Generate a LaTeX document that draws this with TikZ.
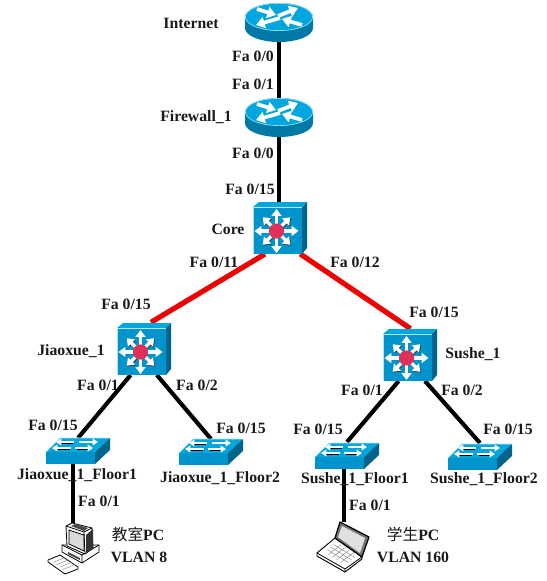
\documentclass[tikz,border=0pt]{standalone}
\usepackage{fontspec}
\setmainfont{Liberation Serif}
\newfontfamily\cjkfont{Noto Sans CJK SC}
\usetikzlibrary{arrows.meta,calc}
\definecolor{topblue}{HTML}{00A6DE}
\definecolor{frontblue}{HTML}{0094CC}
\definecolor{sideblue}{HTML}{0079A6}
\definecolor{darkblue}{HTML}{00648C}
\definecolor{linkred}{HTML}{F00000}
\definecolor{hubred}{HTML}{E0305A}
\tikzset{
  devbox/.style={inner sep=0pt,outer sep=0pt},
  lbl/.style={inner sep=0pt,font=\fontsize{11.8}{13}\selectfont\bfseries,text=black!90},
  wire/.style={black,line width=3.1pt},
  redwire/.style={linkred,line width=3.9pt},
  rtarrow/.style={white,line width=2.8pt,-{Triangle[length=6.5pt,width=8.5pt]}},
  wharrow/.style={white,line width=2.5pt,-{Triangle[length=5.2pt,width=7.4pt]}},
  wharrowb/.style={black!80,line width=2.5pt,-{Triangle[length=5.2pt,width=7.4pt]}},
  thinarrow/.style={white,line width=1.7pt,-{Triangle[length=4pt,width=5pt]}},
  thinshadow/.style={black,line width=1.2pt},
  icn/.style={draw=black,line width=0.6pt,line join=round}
}
% invisible box giving a device its name and its extent (x,y are the centre)
\newcommand{\devbox}[5]{\node[devbox,minimum width=#4*0.75pt,minimum height=#5*0.75pt] (#1) at (#2,#3) {};}
% router: centre of top ellipse at (#1,#2)
\newcommand{\routericon}[2]{\begin{scope}[shift={(#1,#2)}]
  \fill[sideblue] (-34,0) -- (-34,11) arc[start angle=180,end angle=0,x radius=34,y radius=14] -- (34,0) -- cycle;
  \fill[topblue] (0,0) ellipse[x radius=34,y radius=14];
  \draw[white!60!topblue,line width=0.5pt] (0,0) ellipse[x radius=33.6,y radius=13.6];
  \draw[rtarrow] (-22,-8) -- (-3,-2);
  \draw[rtarrow] (23,8) -- (3,2);
  \draw[rtarrow] (-1,-1) -- (19,-9);
  \draw[rtarrow] (1,1) -- (-23,8);
\end{scope}}
% layer-3 switch: top-left of front face at (#1,#2)
\newcommand{\coreicon}[2]{\begin{scope}[shift={(#1,#2)}]
  \fill[topblue] (0,0) -- (6,-5) -- (54,-5) -- (49,0) -- cycle;
  \fill[darkblue] (49,0) -- (54,-5) -- (54,41) -- (49,47) -- cycle;
  \fill[frontblue] (0,0) rectangle (49,47);
  \draw[white!70!topblue,line width=0.4pt] (0,47) -- (0,0) -- (49,0);
  \foreach \a in {45,135,225,315}{
    \draw[wharrowb] (24.2,24.8) -- ++(\a:19.5);
    \draw[wharrow] (23.5,24) -- ++(\a:19.5);
  }
  \foreach \a in {0,90,180,270}{
    \draw[wharrow] (23.5,24) -- ++(\a:22);
  }
  \fill[hubred] (23.5,24) circle[radius=7.6];
\end{scope}}
% layer-2 switch: top-left of front face at (#1,#2)
\newcommand{\swicon}[2]{\begin{scope}[shift={(#1,#2)}]
  \fill[topblue] (0,0) -- (14,-14) -- (64,-14) -- (49,0) -- cycle;
  \fill[darkblue] (49,0) -- (64,-14) -- (64,-2) -- (49,12) -- cycle;
  \fill[frontblue] (0,0) rectangle (49,12);
  \draw[white!70!topblue,line width=0.4pt] (0,0) -- (14,-14) -- (64,-14);
  \draw[thinshadow] (13,-8.5) -- (27,-8.5);
  \draw[thinarrow] (28,-10) -- (10,-10);
  \draw[thinarrow] (33,-10) -- (52,-10);
  \draw[thinshadow] (8,-2.6) -- (24,-2.6);
  \draw[thinarrow] (25,-4) -- (6,-4);
  \draw[thinshadow] (31,-2.6) -- (44,-2.6);
  \draw[thinarrow] (29,-4) -- (47,-4);
\end{scope}}
\newcommand{\pcicon}{%
  % keyboard
  \filldraw[icn,fill=white] (48,560) -- (60,555) -- (78,567) -- (78,569) -- (65,574) -- (48,562) -- cycle;
  \foreach \t in {0.2,0.4,0.6,0.8}{\draw[gray,line width=0.3pt] ($(50,560)!\t!(66,572)$) -- ++(12,-5);}
  % base
  \filldraw[icn,fill=white] (62,545) -- (99,545) -- (99,552) -- (82,563) -- (62,552) -- cycle;
  \draw[icn] (62,545) -- (82,555) -- (99,545) (82,555) -- (82,563);
  \fill[black!75] (68,552) -- (80,558) -- (80,560) -- (68,554) -- cycle;
  % monitor
  \filldraw[icn,fill=white] (66,526) -- (72,523) -- (92,528) -- (93,548) -- (85,554) -- (67,546) -- cycle;
  \filldraw[icn,fill=black!15] (69,530) -- (84,535) -- (84,551) -- (69,544) -- cycle;
  \fill[black!80] (86,535) -- (93,529) -- (93,548) -- (86,553) -- cycle;
  \fill[black!70] (75,524) -- (88,528) -- (84,531) -- (71,526) -- cycle;
  \draw[icn] (66,526) -- (84,532) -- (92,528) (84,532) -- (85,554);
}
\newcommand{\laptopicon}{%
  % base
  \filldraw[icn,fill=white,line width=0.7pt] (317,553) -- (335,538) -- (362,557) -- (362,559) -- (345,572) -- (317,556) -- cycle;
  \draw[icn] (317,553) -- (345,569) -- (362,557) (345,569) -- (345,572);
  \foreach \t in {0.2,0.4,0.6,0.8}{\draw[gray,line width=0.3pt] ($(324,552)!\t!(345,565)$) -- ++(13,-10);}
  \foreach \t in {0.25,0.5,0.75}{\draw[gray,line width=0.3pt] ($(324,552)!\t!(337,542)$) -- ++(21,13);}
  % lid
  \filldraw[icn,fill=black!55,line width=0.9pt] (340,522) -- (369,537) -- (362,557) -- (335,538) -- cycle;
  \fill[black!12] (342,526) -- (365,538) -- (360,553) -- (338,537) -- cycle;
}
\begin{document}
\begin{tikzpicture}[x=0.75pt,y=-0.75pt]
\useasboundingbox (0,0) rectangle (546,581);
% named device extents
\devbox{internet}{279}{22.5}{68}{39}
\devbox{firewall}{279}{117.5}{68}{39}
\devbox{core}{280}{228}{54}{52}
\devbox{jiaoxue}{144.5}{348}{55}{50}
\devbox{sushe}{411}{354}{56}{50}
\devbox{jfa}{78}{450.5}{64}{25}
\devbox{jfb}{211}{452.5}{64}{27}
\devbox{sfa}{347}{455}{64}{26}
\devbox{sfb}{480}{456.5}{66}{27}
\devbox{pc}{73}{548}{51}{50}
\devbox{laptop}{344}{547}{52}{50}
% connectors
\draw[wire] (internet.south) -- (firewall.north);
\draw[wire] (firewall.south) -- (firewall.south |- core.north);
\draw[redwire,shorten >=1pt] (core.-120) -- (jiaoxue.78);
\draw[redwire,shorten >=0.5pt] (core.-52.4) -- (sushe.north);
\draw[wire,shorten <=2pt] (jiaoxue.-116.6) -- (jfa.north);
\draw[wire,shorten <=2pt] (jiaoxue.-67.2) -- (jfb.north);
\draw[wire,shorten <=2pt] (sushe.-113.8) -- (sfa.north);
\draw[wire,shorten <=2pt] (sushe.-64.4) -- (sfb.north);
\draw[wire] (jfa.-111.8) -- (jfa.-111.8 |- pc.north);
\draw[wire] (sfa.-103) -- (sfa.-103 |- laptop.north);
% icons
\routericon{279}{17}
\routericon{279}{112}
\coreicon{253}{207}
\coreicon{117}{328}
\coreicon{383}{334}
\swicon{46}{452}
\swicon{179}{453}
\swicon{315}{457}
\swicon{448}{458}
\pcicon
\laptopicon
% labels
\node[lbl] (t1) at (191,23) {Internet};
\node[lbl] (t2) at (196,117) {Firewall\_1};
\node[lbl] (t3) at (253,56) {Fa 0/0};
\node[lbl] (t4) at (253,84) {Fa 0/1};
\node[lbl] (t5) at (253,153) {Fa 0/0};
\node[lbl] (t6) at (250,189) {Fa 0/15};
\node[lbl] (t7) at (228,229) {Core};
\node[lbl] (t8) at (214,262) {Fa 0/11};
\node[lbl] (t9) at (355,262) {Fa 0/12};
\node[lbl] (t10) at (126,304) {Fa 0/15};
\node[lbl] (t11) at (434,312) {Fa 0/15};
\node[lbl] (t12) at (71,351) {Jiaoxue\_1};
\node[lbl] (t13) at (473,354) {Sushe\_1};
\node[lbl] (t14) at (98,385) {Fa 0/1};
\node[lbl] (t15) at (197,385) {Fa 0/2};
\node[lbl] (t16) at (362,390) {Fa 0/1};
\node[lbl] (t17) at (462,390) {Fa 0/2};
\node[lbl] (t18) at (53,425) {Fa 0/15};
\node[lbl] (t19) at (241,428) {Fa 0/15};
\node[lbl] (t20) at (318,429) {Fa 0/15};
\node[lbl] (t21) at (508,429) {Fa 0/15};
\node[lbl] (t22) at (77,475) {Jiaoxue\_1\_Floor1};
\node[lbl] (t23) at (220,478) {Jiaoxue\_1\_Floor2};
\node[lbl] (t24) at (355,479) {Sushe\_1\_Floor1};
\node[lbl] (t25) at (484,479) {Sushe\_1\_Floor2};
\node[lbl] (t26) at (99,501) {Fa 0/1};
\node[lbl] (t27) at (370,505) {Fa 0/1};
\node[lbl] (t28) at (138,534) {{\cjkfont\mdseries 教室}PC};
\node[lbl] (t29) at (139,557) {VLAN 8};
\node[lbl] (t30) at (413,534) {{\cjkfont\mdseries 学生}PC};
\node[lbl] (t31) at (413,557) {VLAN 160};
\end{tikzpicture}
\end{document}
